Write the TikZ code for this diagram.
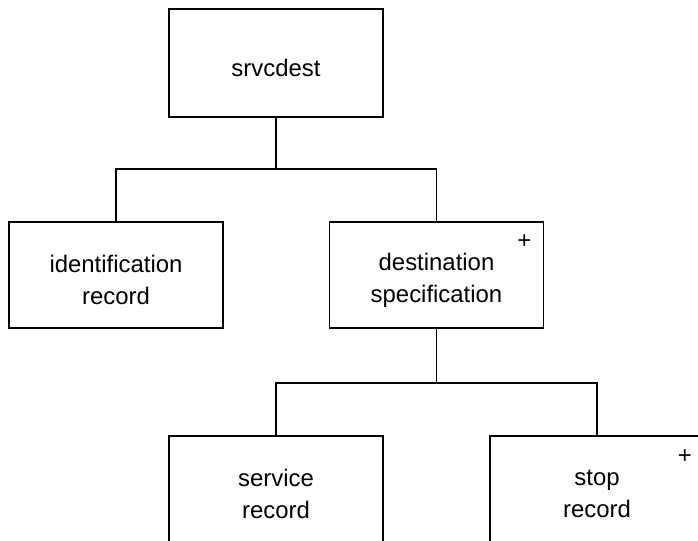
\documentclass[tikz,border=0pt]{standalone}
\usepackage{fontspec}
\setmainfont{Liberation Sans}

\begin{document}
\begin{tikzpicture}[line cap=rect,line join=miter,x=1bp,y=-1bp,
    box/.style={draw=black, line width=1.8bp, minimum width=214bp, minimum height=106bp, inner sep=0pt},
    boxtext/.style={inner sep=0pt, align=center, font=\fontsize{24}{32}\selectfont},
    link/.style={draw=black, line width=1.8bp},
    plus/.style={inner sep=0pt, font=\fontsize{24}{24}\selectfont}]
    \useasboundingbox (0,0) rectangle (698,541);

    % boxes
    \node[box, minimum height=108bp] (srvcdest) at (276,63) {};
    \node[box] (ident) at (116,275) {};
    \node[box] (dest) at (436.5,275) {};
    \node[box] (service) at (276,489) {};
    \node[box] (stop) at (597,489) {};

    % box texts
    \node[boxtext] (srvcdesttext) at ([yshift=-5bp]srvcdest.center) {srvcdest};
    \node[boxtext] (identtext) at ([yshift=-5bp]ident.center) {identification\\record};
    \node[boxtext] (desttext) at ([yshift=-5bp]dest.center) {destination\\specification};
    \node[boxtext] (servicetext) at ([yshift=-5bp]service.center) {service\\record};
    \node[boxtext] (stoptext) at ([yshift=-5bp]stop.center) {stop\\record};

    % iteration marks
    \node[plus] (destplus) at ([xshift=-20bp,yshift=-21bp]dest.north east) {+};
    \node[plus] (stopplus) at ([xshift=-20bp,yshift=-21bp]stop.north east) {+};

    % Edges
    \coordinate (bustop) at (276,169);
    \coordinate (busdest) at (436.5,383);
    \draw[link] (srvcdest.south) -- (bustop);
    \draw[link] (ident.north) |- (bustop) -| (dest.north);
    \draw[link] (dest.south) -- (busdest);
    \draw[link] (service.north) |- (busdest) -| (stop.north);

\end{tikzpicture}
\end{document}
